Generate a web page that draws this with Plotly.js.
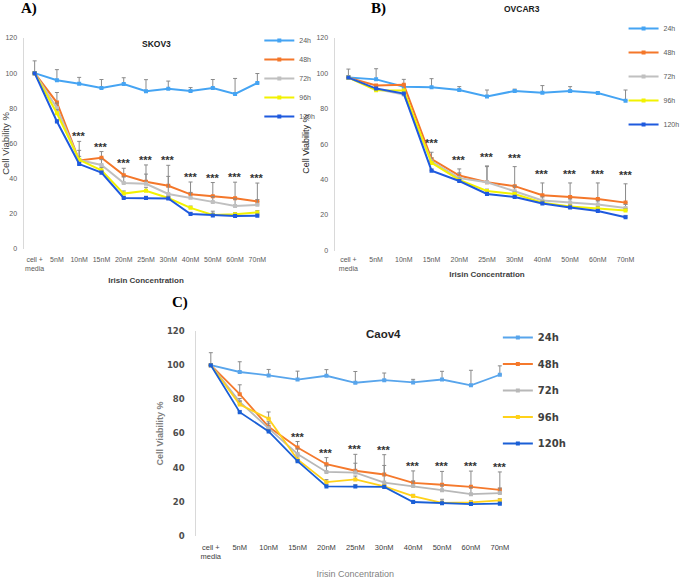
<!DOCTYPE html>
<html>
<head>
<meta charset="utf-8">
<script src="https://cdn.plot.ly/plotly-3.0.1.min.js"></script>
<style>
  html, body { margin: 0; padding: 0; background: #fff; }
  #chart { width: 685px; height: 581px; }
</style>
</head>
<body>
<div id="chart"></div>
<script>
// categories on the x axis and the five exposure times
const cats = ['cell +<br>media', '5nM', '10nM', '15nM', '20nM', '25nM', '30nM', '40nM', '50nM', '60nM', '70nM'];
const hours = ['24h', '48h', '72h', '96h', '120h'];

// A) SKOV3
const skov3_24h = [100, 96, 94, 91.6, 93.8, 89.7, 91.2, 89.9, 91.6, 88.2, 94.4];
const skov3_48h = [100, 83.3, 50.4, 51.9, 42, 38.2, 36, 31.1, 30, 28.8, 27];
const skov3_72h = [100, 80, 50.6, 47.8, 37.5, 37.1, 31.3, 29.2, 26.8, 24.5, 25.1];
const skov3_96h = [100, 77.2, 50.7, 44.8, 31.5, 33.1, 29, 23.4, 19.4, 19.7, 20.8];
const skov3_120h = [100, 72.5, 48.3, 43.4, 29, 29, 28.7, 19.9, 19.1, 18.7, 18.9];
const skov3_24h_err = [7, 6, 3.6, 4.8, 3.6, 6.6, 4.3, 1.9, 4.8, 8.8, 5.4];
const skov3_48h_err = [0, 5.7, 10.8, 3.5, 3.9, 9.6, 11.6, 7, 7.8, 9.2, 10.5];
const skov3_72h_err = [0, 3, 5.5, 3, 3.5, 5.5, 10, 3, 3, 4, 3];
const skov3_96h_err = [0, 2, 2, 1.5, 1.5, 2, 1, 1, 1, 1, 1];
const skov3_120h_err = [0, 1, 1, 1, 1, 1, 1, 1, 2.4, 1, 1];
const skov3_sig = ['10nM', '15nM', '20nM', '25nM', '30nM', '40nM', '50nM', '60nM', '70nM'];

// B) OVCAR3
const ovcar3_24h = [97.5, 96.5, 92.4, 92, 90.5, 86.8, 90, 89, 90, 88.8, 84.5];
const ovcar3_48h = [97.5, 93.1, 93.5, 51.5, 42.3, 38.5, 36.3, 31.2, 30.2, 29.1, 27];
const ovcar3_72h = [97.5, 91, 87.9, 50.2, 40.8, 38.5, 33.4, 28.2, 27, 25.9, 24];
const ovcar3_96h = [97.5, 90.4, 90.2, 49.4, 39.8, 33.6, 31.9, 26.9, 24.8, 23.7, 22.5];
const ovcar3_120h = [97.5, 91.3, 88.5, 45, 39.2, 31.9, 30.2, 26.5, 24.2, 22.3, 18.8];
const ovcar3_24h_err = [4.8, 6, 4.1, 4.9, 1.9, 3.7, 1, 4, 2.4, 0.5, 6];
const ovcar3_48h_err = [0, 0, 0, 3.9, 3.7, 8.8, 11, 6.9, 7.9, 9, 10.6];
const ovcar3_72h_err = [0, 0, 0, 2, 3, 9.2, 3, 2, 2, 2, 2];
const ovcar3_96h_err = [0, 0, 0, 1, 1, 1, 1, 1, 1, 1, 1];
const ovcar3_120h_err = [0, 0, 0, 1, 1, 1, 1, 1, 1, 1, 1];
const ovcar3_sig = ['15nM', '20nM', '25nM', '30nM', '40nM', '50nM', '60nM', '70nM'];

// C) Caov4
const caov4_24h = [100, 96, 94, 91.6, 93.8, 89.7, 91.2, 89.9, 91.6, 88.2, 94.4];
const caov4_48h = [100, 83, 63.9, 51.8, 42, 38.2, 36, 31.1, 30, 28.8, 27];
const caov4_72h = [100, 78.5, 63, 48, 37.5, 37.1, 31.3, 29.2, 26.8, 24.5, 25.1];
const caov4_96h = [100, 77, 68.6, 44.8, 31.5, 33.1, 29, 23.4, 19.4, 19.7, 20.8];
const caov4_120h = [100, 72.5, 61.2, 43.8, 29, 29, 28.7, 19.9, 19.1, 18.7, 18.9];
const caov4_24h_err = [7.3, 6, 3.5, 4.9, 3.6, 6.6, 4.2, 1.8, 4.8, 8.8, 5.2];
const caov4_48h_err = [0, 5.5, 3, 3.5, 3.9, 9.6, 11.6, 7, 7.8, 9.2, 10.5];
const caov4_72h_err = [0, 2, 3, 3, 3.5, 5.5, 10, 3, 3, 4, 3];
const caov4_96h_err = [0, 2, 4, 1.5, 1.5, 2, 1, 1, 1, 1, 1];
const caov4_120h_err = [0, 1, 1, 1, 1, 1, 1, 1, 2.4, 1, 1];
const caov4_sig = ['15nM', '20nM', '25nM', '30nM', '40nM', '50nM', '60nM', '70nM'];

// figure is laid out in pixels, converted to paper fractions
const W = 685, H = 581;
const fx = v => v / W;
const fy = v => 1 - v / H;
const FONT = 'Liberation Sans, Arial, sans-serif';
const GREY = '#595959';

const panels = [
  {
    key: '', legend: 'legend', title: 'SKOV3', tag: 'A)',
    series: [skov3_24h, skov3_48h, skov3_72h, skov3_96h, skov3_120h],
    errors: [skov3_24h_err, skov3_48h_err, skov3_72h_err, skov3_96h_err, skov3_120h_err],
    sig: skov3_sig,
    colors: ['#45a4f3', '#f4772a', '#c0c0c0', '#f2f200', '#1f5ade'],
    box: [23.75, 271.25, 38, 249]
  },
  {
    key: '2', legend: 'legend2', title: 'OVCAR3', tag: 'B)',
    series: [ovcar3_24h, ovcar3_48h, ovcar3_72h, ovcar3_96h, ovcar3_120h],
    errors: [ovcar3_24h_err, ovcar3_48h_err, ovcar3_72h_err, ovcar3_96h_err, ovcar3_120h_err],
    sig: ovcar3_sig,
    colors: ['#45a4f3', '#f4772a', '#c0c0c0', '#f2f200', '#1f5ade'],
    box: [338, 646, 37.7, 250.5]
  },
  {
    key: '3', legend: 'legend3', title: 'Caov4', tag: 'C)',
    series: [caov4_24h, caov4_48h, caov4_72h, caov4_96h, caov4_120h],
    errors: [caov4_24h_err, caov4_48h_err, caov4_72h_err, caov4_96h_err, caov4_120h_err],
    sig: caov4_sig,
    colors: ['#58a5ec', '#f5792c', '#b8b8b8', '#ffd21a', '#1a5fd6'],
    box: [198.4, 519.6, 331, 536]
  }
];

const traces = [];
panels.forEach(p => {
  p.series.forEach((ys, i) => {
    traces.push({
      type: 'scatter', mode: 'lines+markers',
      x: cats, y: ys, name: hours[i],
      xaxis: 'x' + p.key, yaxis: 'y' + p.key,
      legend: p.legend, legendgroup: p.legend + hours[i],
      line: { color: p.colors[i], width: p.key === '3' ? 1.8 : 2 },
      marker: { color: p.colors[i], size: 4, symbol: 'square' },
      error_y: {
        type: 'data', symmetric: false, array: p.errors[i],
        arrayminus: p.errors[i].map(() => 0),
        color: '#8a8a8a', thickness: 1, width: 2
      }
    });
  });
});

// *** above the highest treated-series error bar (24h control left out)
const annotations = [];
panels.forEach((p, k) => {
  p.sig.forEach(c => {
    const j = cats.indexOf(c);
    const top = Math.max(...p.series.slice(1).map((s, i) => s[j] + p.errors[i + 1][j]));
    annotations.push({
      xref: 'x' + p.key, yref: 'y' + p.key, x: c, y: top,
      text: '***', showarrow: false, yanchor: 'bottom', yshift: k === 1 ? 1 : -3,
      font: { family: FONT, size: 11, color: '#333', weight: 'bold' }
    });
  });
});

const tagPos = [[29, 8], [382, 8], [182, 303]];
const titlePos = [[158, 44, 8.5], [527, 9, 8.5], [387, 334, 11.5]];
panels.forEach((p, k) => {
  annotations.push({
    xref: 'paper', yref: 'paper', x: fx(tagPos[k][0]), y: fy(tagPos[k][1]),
    text: p.tag, showarrow: false, xanchor: 'center', yanchor: 'middle',
    font: { family: 'Liberation Serif, serif', size: 15, color: '#000', weight: 'bold' }
  });
  annotations.push({
    xref: 'paper', yref: 'paper', x: fx(titlePos[k][0]), y: fy(titlePos[k][1]),
    text: p.title, showarrow: false, xanchor: 'center', yanchor: 'middle',
    font: { family: FONT, size: titlePos[k][2], color: k === 2 ? '#262626' : '#1a1a1a', weight: 'bold' }
  });
});

const layout = {
  width: W, height: H,
  margin: { l: 0, r: 0, t: 0, b: 0 },
  paper_bgcolor: '#fff', plot_bgcolor: 'rgba(0,0,0,0)',
  font: { family: FONT, color: GREY },
  hovermode: false,
  annotations
};

const xTitle = [
  { size: 8, weight: 'bold', color: '#404040', standoff: 6, tick: 5 },
  { size: 8, weight: 'bold', color: '#404040', standoff: 0, tick: 3 },
  { size: 9, weight: 'normal', color: '#7f7f7f', standoff: 10, tick: 5 }
];
const yTitle = [
  { size: 9.5, weight: 'normal', color: '#404040', standoff: 2 },
  { size: 9, weight: 'normal', color: '#262626', standoff: 5 },
  { size: 9, weight: 'bold', color: '#7f7f7f', standoff: 1 }
];

panels.forEach((p, k) => {
  const [x0, x1, y0, y1] = p.box;
  layout['xaxis' + p.key] = {
    domain: [fx(x0), fx(x1)], anchor: 'y' + p.key,
    type: 'category', range: [-0.5, cats.length - 0.5],
    showgrid: false, zeroline: false, showline: false, ticks: '',
    tickfont: { family: FONT, size: k === 2 ? 7.5 : 7, color: k === 2 ? '#404040' : GREY },
    ticklabelstandoff: xTitle[k].tick,
    title: { text: 'Irisin Concentration', standoff: xTitle[k].standoff,
      font: { family: FONT, size: xTitle[k].size, weight: xTitle[k].weight, color: xTitle[k].color } }
  };
  layout['yaxis' + p.key] = {
    domain: [fy(y1), fy(y0)], anchor: 'x' + p.key,
    range: [0, 120], dtick: 20,
    showgrid: false, zeroline: false,
    showline: true, linecolor: '#d9d9d9', linewidth: 1, ticks: '',
    tickfont: k === 2
      ? { family: 'DejaVu Sans, sans-serif', size: 8.5, color: '#4d4d4d', weight: 'bold' }
      : { family: FONT, size: 7, color: GREY },
    ticklabelstandoff: k === 2 ? 9 : 4,
    title: { text: 'Cell Viability %', standoff: yTitle[k].standoff,
      font: { family: FONT, size: yTitle[k].size, weight: yTitle[k].weight, color: yTitle[k].color } }
  };
});

// legends, one per panel
const legendPos = [[262, 26, 0, 7, GREY, 'normal'], [630, 14, 5, 7, GREY, 'normal'], [503, 323, 7.5, 10, '#404040', 'bold']];
['legend', 'legend2', 'legend3'].forEach((name, k) => {
  const [lx, ly, gap, size, color, weight] = legendPos[k];
  layout[name] = {
    x: fx(lx), y: fy(ly), xref: 'paper', yref: 'paper',
    xanchor: 'left', yanchor: 'top',
    bgcolor: 'rgba(0,0,0,0)', borderwidth: 0,
    traceorder: 'grouped', tracegroupgap: gap,
    font: { family: k === 2 ? 'DejaVu Sans, sans-serif' : FONT, size, color, weight }
  };
});

Plotly.newPlot('chart', traces, layout, { staticPlot: true, displayModeBar: false });
</script>
</body>
</html>
